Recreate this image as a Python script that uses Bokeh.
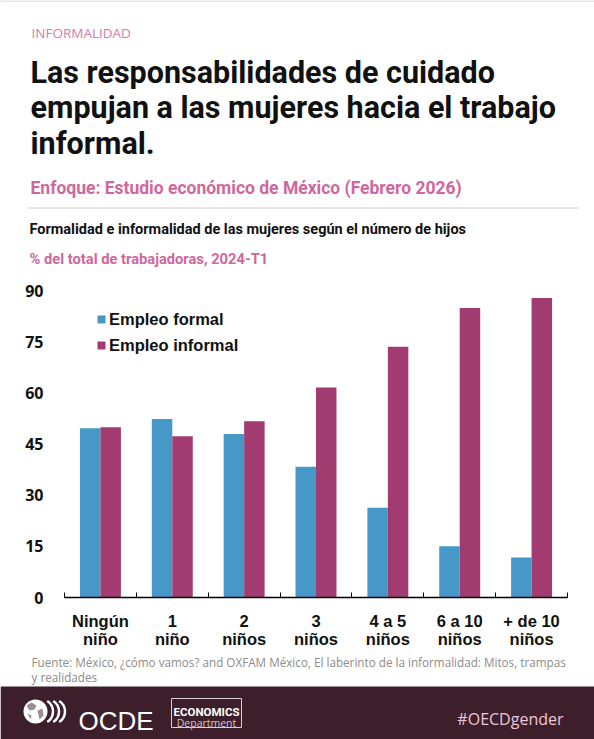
from bokeh.plotting import figure
from bokeh.layouts import column
from bokeh.models import Range1d, ColumnDataSource, FixedTicker, Legend, LegendItem
from bokeh.transform import dodge
from bokeh.core.properties import value
from bokeh.embed import file_html
from bokeh.resources import INLINE

# ---------------- data ----------------
categories = ["Ningún\nniño", "1\nniño", "2\nniños", "3\nniños",
              "4 a 5\nniños", "6 a 10\nniños", "+ de 10\nniños"]
formal = [49.6, 52.3, 47.9, 38.3, 26.3, 15.0, 11.7]
informal = [49.9, 47.3, 51.7, 61.6, 73.5, 84.9, 87.8]
series_names = ["Empleo formal", "Empleo informal"]
y_ticks = [0, 15, 30, 45, 60, 75, 90]

kicker = "INFORMALIDAD"
title_lines = ["Las responsabilidades de cuidado",
               "empujan a las mujeres hacia el trabajo",
               "informal."]
subtitle = "Enfoque: Estudio económico de México (Febrero 2026)"
chart_title = "Formalidad e informalidad de las mujeres según el número de hijos"
chart_unit = "% del total de trabajadoras, 2024-T1"
source_lines = ["Fuente: México, ¿cómo vamos? and OXFAM México, El laberinto de la informalidad: Mitos, trampas",
                "y realidades"]

# ---------------- style ----------------
W = 594
BLUE = "#4698c8"
PURPLE = "#a23b70"
PINK = "#d0679c"
KICK = "#d77ba9"
BAND = "#3d1f2c"
HEAD = "Roboto"


def blank(h):
    f = figure(width=W, height=h, x_range=Range1d(0, W), y_range=Range1d(h, 0),
               output_backend="svg", toolbar_location=None, min_border=0,
               x_axis_location=None, y_axis_location=None, frame_align=False)
    f.grid.grid_line_color = None
    f.outline_line_color = None
    f.background_fill_color = "white"
    f.border_fill_color = "white"
    return f


# ---------------- header ----------------
H1 = 270
head = blank(H1)
head.segment(x0=[0, 27], y0=[0.5, 207.5], x1=[W, 578], y1=[0.5, 207.5],
             line_color="#cccccc", line_width=1)
head.text(x=[31], y=[32], text=[kicker], text_font=value("Open Sans"),
          text_font_size="13.5px", text_color=KICK, text_baseline="alphabetic")
head.text(x=[30, 30, 30], y=[72, 107, 142.5], text=title_lines, text_font=value(HEAD),
          text_font_style="bold", text_font_size="30.5px", text_color="#111111",
          text_baseline="alphabetic")
head.text(x=[30], y=[187], text=[subtitle], text_font=value(HEAD),
          text_font_style="bold", text_font_size="17.5px", text_color=PINK,
          text_baseline="alphabetic")
head.text(x=[29], y=[229], text=[chart_title], text_font=value(HEAD),
          text_font_style="bold", text_font_size="14.5px", text_color="#111111",
          text_baseline="alphabetic")
head.text(x=[29], y=[258], text=[chart_unit], text_font=value(HEAD),
          text_font_style="bold", text_font_size="14.7px", text_color=PINK,
          text_baseline="alphabetic")

# ---------------- chart ----------------
idx = list(range(len(categories)))
src = ColumnDataSource(dict(x=idx, formal=formal, informal=informal))

p = figure(width=W, height=380, x_range=Range1d(-0.5, len(categories) - 0.5),
           y_range=Range1d(0, 90), output_backend="svg", toolbar_location=None,
           min_border_left=64, min_border_right=27, min_border_top=20, min_border_bottom=52,
           frame_align=False)
p.grid.grid_line_color = None
p.outline_line_color = None
p.background_fill_color = "white"
p.border_fill_color = "white"

bw = 0.285
r1 = p.vbar(x=dodge("x", -bw / 2), top="formal", width=bw, source=src,
            fill_color=BLUE, line_color=None)
r2 = p.vbar(x=dodge("x", bw / 2), top="informal", width=bw, source=src,
            fill_color=PURPLE, line_color=None)

xa = p.xaxis[0]
xa.ticker = FixedTicker(ticks=idx, minor_ticks=[i - 0.5 for i in idx] + [idx[-1] + 0.5])
xa.major_label_overrides = {i: c for i, c in zip(idx, categories)}
xa.major_tick_line_color = None
xa.minor_tick_in = 5
xa.minor_tick_out = 0
xa.minor_tick_line_color = "black"
xa.minor_tick_line_width = 1
xa.axis_line_color = "black"
xa.axis_line_width = 1.5
xa.major_label_standoff = 8
xa.major_label_text_font = "Liberation Sans"
xa.major_label_text_font_style = "bold"
xa.major_label_text_font_size = "16.5px"
xa.major_label_text_line_height = 1.0
xa.major_label_text_color = "#111111"

ya = p.yaxis[0]
ya.ticker = FixedTicker(ticks=y_ticks)
ya.axis_line_color = None
ya.major_tick_line_color = None
ya.minor_tick_line_color = None
ya.major_label_standoff = 15
ya.major_label_text_font = "Open Sans"
ya.major_label_text_font_style = "bold"
ya.major_label_text_font_size = "16px"
ya.major_label_text_color = "#111111"

legend = Legend(items=[LegendItem(label=series_names[0], renderers=[r1]),
                       LegendItem(label=series_names[1], renderers=[r2])],
                location=(32, 242), orientation="vertical",
                glyph_width=10, glyph_height=10, label_height=20, spacing=6,
                padding=0, margin=0, label_standoff=3,
                border_line_color=None, background_fill_alpha=0,
                label_text_font="Liberation Sans", label_text_font_style="bold",
                label_text_font_size="16.5px", label_text_color="#111111")
p.add_layout(legend, "center")

# ---------------- footer ----------------
H3 = 89
foot = blank(H3)
foot.text(x=[31, 31], y=[11, 26], text=source_lines, text_font=value("Open Sans"),
          text_font_size="11.7px", text_color="#8c8c8c", text_baseline="alphabetic")
foot.quad(left=[0], right=[W], top=[36], bottom=[H3], fill_color=BAND, line_color=None)
# logo
foot.circle(x=[35], y=[61], radius=12, fill_color="white", line_color=None)
foot.patches(xs=[[26, 31, 36, 34, 29], [37, 42, 43, 39], [27, 31, 30]],
             ys=[[55, 52, 55, 59, 60], [60, 58, 65, 69], [63, 65, 69]],
             fill_color="#9a8e94", line_color=None)
foot.arc(x=[40, 46, 52], y=[61, 61, 61], radius=12.5, start_angle=-1.0, end_angle=1.0,
         line_color="white", line_width=2.5)
foot.text(x=[78], y=[70], text=["OCDE"], text_font=value("Liberation Sans"),
          text_font_size="26px", text_color="white", text_baseline="alphabetic")
foot.quad(left=[171], right=[241], top=[48], bottom=[77], fill_color=None,
          line_color="#d9d0d4", line_width=1)
foot.text(x=[206], y=[61], text=["ECONOMICS"], text_font=value(HEAD),
          text_font_style="bold", text_font_size="11.5px", text_color="white",
          text_align="center", text_baseline="alphabetic")
foot.text(x=[206], y=[72.5], text=["Department"], text_font=value("Open Sans"),
          text_font_size="10.5px", text_color="#cfc3c9",
          text_align="center", text_baseline="alphabetic")
foot.text(x=[563], y=[68], text=["#OECDgender"], text_font=value("Open Sans"),
          text_font_size="16px", text_color="#edc6da",
          text_align="right", text_baseline="alphabetic")

page = column(head, p, foot, spacing=0)
open("out.html", "w").write(file_html(page, INLINE))
